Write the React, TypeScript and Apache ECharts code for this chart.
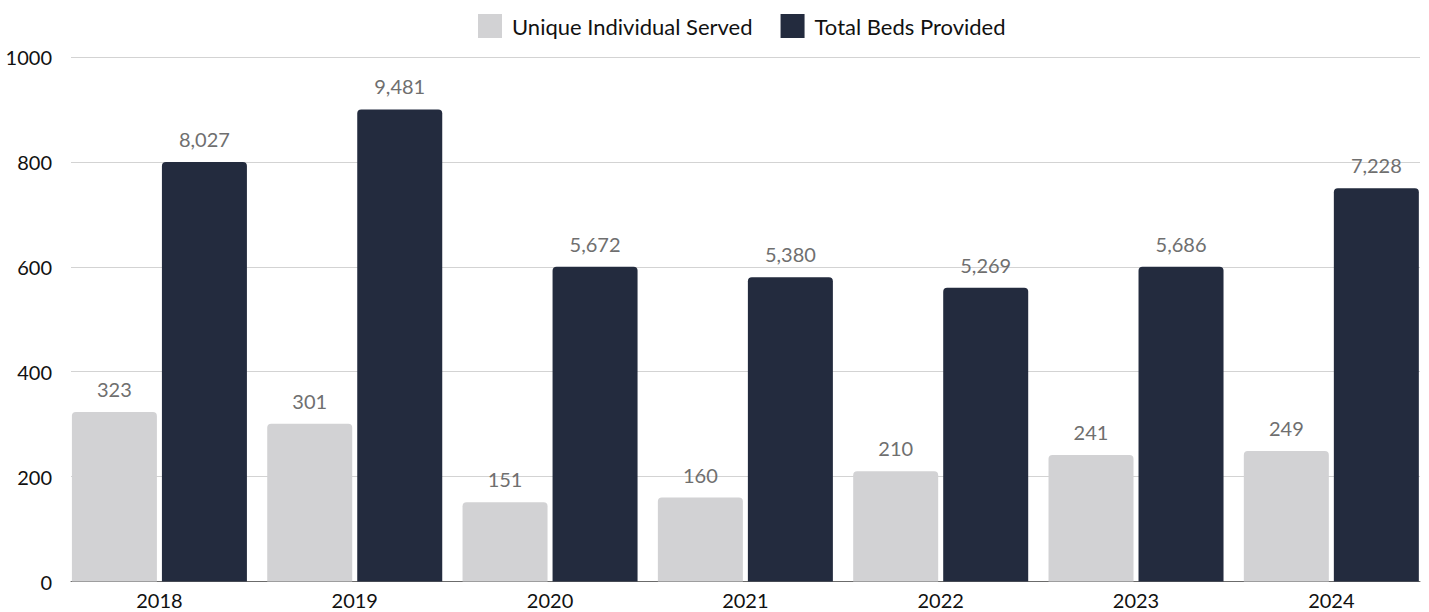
import React, { useEffect, useRef } from "react";
import * as echarts from "echarts";

const categories = ["2018", "2019", "2020", "2021", "2022", "2023", "2024"];
const uniqueServed = [323, 301, 151, 160, 210, 241, 249];
// Heights as drawn in the reference (axis scale 0–1000)
const bedsPlotted = [800, 900, 600, 580, 560, 600, 750];
// Labels as printed above the dark bars
const bedsLabels = [8027, 9481, 5672, 5380, 5269, 5686, 7228];
const yTicks = { min: 0, max: 1000, interval: 200 };

const FONT = "Lato, 'Noto Sans', sans-serif";

export default function App() {
  const ref = useRef<HTMLDivElement>(null);
  useEffect(() => {
    if (!ref.current) return;
    const chart = echarts.init(ref.current, undefined, { renderer: "svg" });
    chart.setOption({
      animation: false,
      textStyle: { fontFamily: FONT },
      legend: {
        left: 473,
        top: 9,
        itemWidth: 24,
        itemHeight: 24,
        itemGap: 28,
        icon: "rect",
        textStyle: { fontSize: 22, color: "#111", fontFamily: FONT, padding: [0, 0, 0, 5] },
        data: ["Unique Individual Served", "Total Beds Provided"],
      },
      grid: [
        { left: 71, right: 9, top: 57, height: 524.5 },
        { left: 61.75, right: -1.25, top: 57, height: 524.5 },
      ],
      xAxis: [
        {
          type: "category",
          gridIndex: 0,
          data: categories,
          axisLine: { show: true, lineStyle: { color: "#6b6b6b", width: 1 } },
          axisTick: { show: false },
          axisLabel: { show: false },
          splitLine: { show: false },
        },
        {
          type: "category",
          gridIndex: 1,
          data: categories,
          axisLine: { show: false },
          axisTick: { show: false },
          axisLabel: { fontSize: 20, color: "#111", margin: 8, fontFamily: FONT },
        },
      ],
      yAxis: [
        {
          type: "value",
          gridIndex: 0,
          min: yTicks.min,
          max: yTicks.max,
          interval: yTicks.interval,
          axisLine: { show: false },
          axisTick: { show: false },
          axisLabel: {
            fontSize: 20,
            color: "#111",
            margin: 19,
            fontFamily: FONT,
            formatter: (v: number) => String(v),
          },
          splitLine: { lineStyle: { color: "#d3d3d3", width: 1 } },
        },
        {
          type: "value",
          gridIndex: 1,
          min: yTicks.min,
          max: yTicks.max,
          interval: yTicks.interval,
          show: false,
          splitLine: { show: false },
        },
      ],
      series: [
        {
          name: "Unique Individual Served",
          type: "bar",
          xAxisIndex: 1,
          yAxisIndex: 1,
          barWidth: 85,
          barGap: "5.9%",
          data: uniqueServed,
          itemStyle: { color: "#d2d2d4", borderRadius: [4, 4, 0, 0] },
          label: {
            show: true,
            position: "top",
            distance: 13,
            fontSize: 20,
            color: "#6f6f6f",
            fontFamily: FONT,
            formatter: (p: any) => Number(p.value).toLocaleString("en-US"),
          },
        },
        {
          name: "Total Beds Provided",
          type: "bar",
          xAxisIndex: 1,
          yAxisIndex: 1,
          barWidth: 85,
          barGap: "5.9%",
          data: bedsPlotted,
          itemStyle: { color: "#232b3e", borderRadius: [4, 4, 0, 0] },
          label: {
            show: true,
            position: "top",
            distance: 13,
            fontSize: 20,
            color: "#6f6f6f",
            fontFamily: FONT,
            formatter: (p: any) => bedsLabels[p.dataIndex].toLocaleString("en-US"),
          },
        },
      ],
    });
    return () => chart.dispose();
  }, []);
  return (
    <div
      ref={ref}
      style={{ position: "absolute", left: 0, top: 0, width: 1429, height: 612 }}
    />
  );
}
